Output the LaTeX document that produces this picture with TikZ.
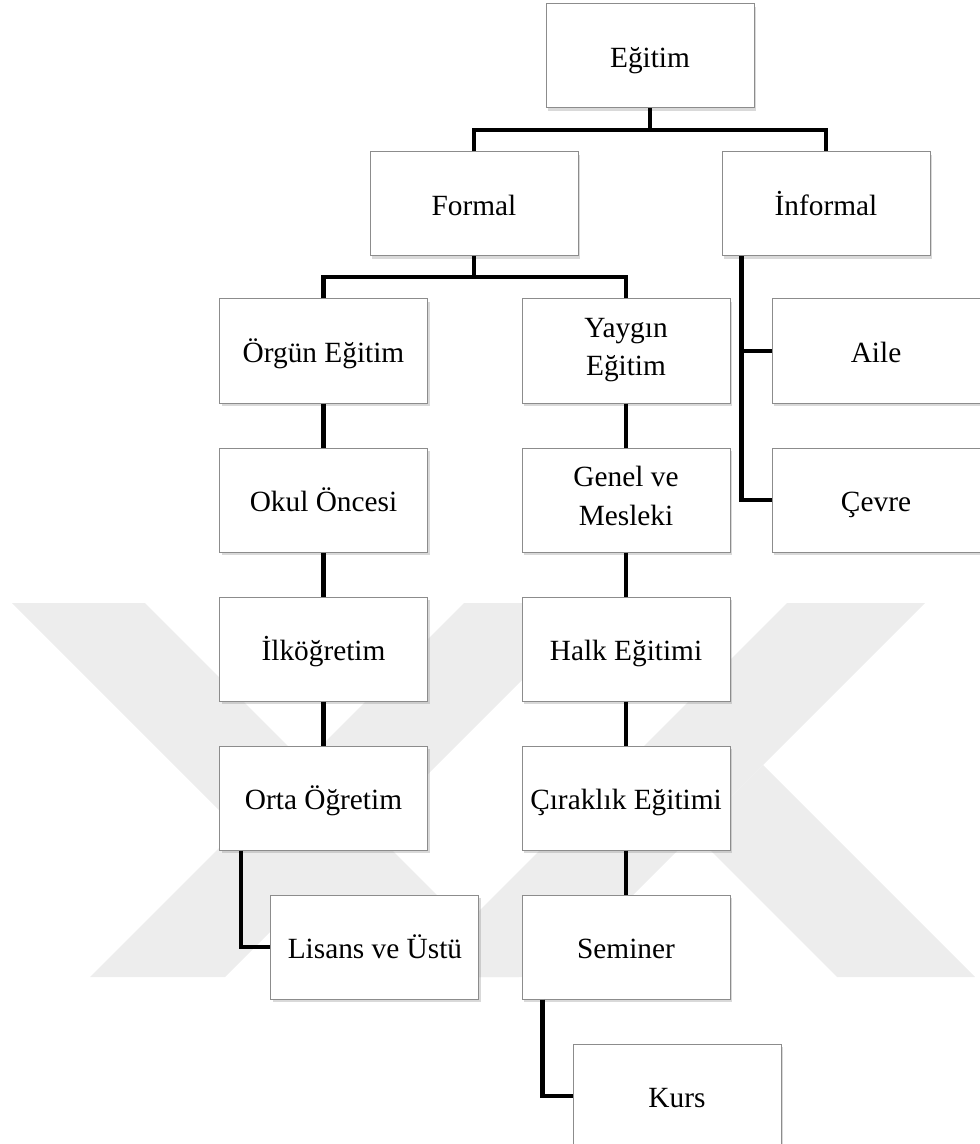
\documentclass[tikz,border=0pt]{standalone}
\usepackage{fontspec}
\setmainfont{Liberation Serif}
\usetikzlibrary{positioning,shadows}

\begin{document}
\begin{tikzpicture}[x=0.75pt,y=-0.75pt,node distance=33pt,
	box/.style={draw=black!45,line width=0.75pt,fill=white,minimum width=156pt,minimum height=78pt,
		inner sep=0pt,align=center,font=\fontsize{22}{29}\selectfont,
		execute at begin node={\rule{0pt}{23pt}},execute at end node={\rule[-6pt]{0pt}{6pt}},
		drop shadow={shadow xshift=1.5pt,shadow yshift=-2pt,opacity=0.3}},
	conn/.style={line width=3.4pt,black},
	wm/.style={fill=black!7}]
\useasboundingbox (0,0) rectangle (979,1144);

% watermark
\fill[wm] (12,603) -- (145,603) -- (519,977) -- (386,977) -- cycle;
\fill[wm] (90,977) -- (225,977) -- (599,603) -- (464,603) -- cycle;
\fill[wm] (787,603) -- (925,603) -- (551,977) -- (413,977) -- cycle;
\fill[wm] (763,765) -- (975,977) -- (837,977) -- (694,834) -- cycle;

\node[box] (egitim) at (650,56) {Eğitim};
\node[box] (formal) at (474,204) {Formal};
\node[box] (informal) at (826,204) {İnformal};

\node[box] (orgun) at (323.5,351) {Örgün Eğitim};
\node[box,below=of orgun] (okul) {Okul Öncesi};
\node[box,below=of okul] (ilk) {İlköğretim};
\node[box,below=of ilk] (orta) {Orta Öğretim};
\node[box,below=of orta,xshift=38.6pt] (lisans) {Lisans ve Üstü};

\node[box] (yaygin) at (626,351) {Yaygın\\Eğitim};
\node[box,below=of yaygin] (genel) {Genel ve\\Mesleki};
\node[box,below=of genel] (halk) {Halk Eğitimi};
\node[box,below=of halk] (cirak) {Çıraklık Eğitimi};
\node[box,below=of cirak] (seminer) {Seminer};
\node[box,below=of seminer,xshift=38.25pt] (kurs) {Kurs};

\node[box] (aile) at (876,351) {Aile};
\node[box,below=of aile] (cevre) {Çevre};

\coordinate (egbar) at (650,130);
\coordinate (fbar) at (474,277);

\draw[conn] (egitim) -- (egbar);
\draw[conn] (formal) |- (egbar) -| (informal);
\draw[conn] (formal) -- (fbar);
\draw[conn] (orgun) |- (fbar) -| (yaygin);
\draw[conn] ([xshift=15pt]informal.south west) |- (aile.west);
\draw[conn] ([xshift=15pt]informal.south west) |- (cevre.west);
\draw[conn] (orgun) -- (okul) -- (ilk) -- (orta);
\draw[conn] ([xshift=16.5pt]orta.south west) |- (lisans);
\draw[conn] (yaygin) -- (genel) -- (halk) -- (cirak) -- (seminer);
\draw[conn] ([xshift=15.75pt]seminer.south west) |- (kurs);

\end{tikzpicture}
\end{document}
